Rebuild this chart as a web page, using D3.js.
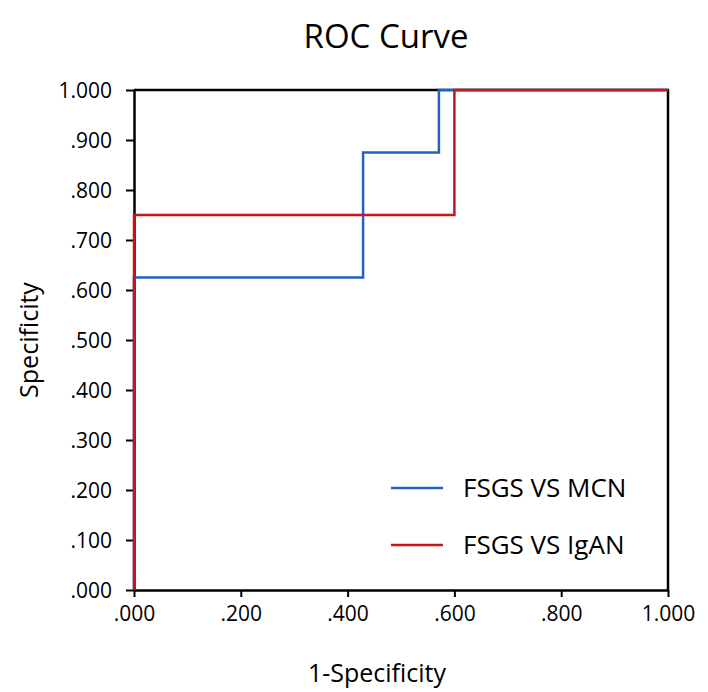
<!DOCTYPE html>
<html>
<head>
<meta charset="utf-8">
<script src="https://cdn.jsdelivr.net/npm/d3@7"></script>
<style>
html,body{margin:0;padding:0;background:#fff;}
text{font-family:"Open Sans",sans-serif;fill:#000;}
</style>
</head>
<body>
<svg id="chart" width="708" height="692"></svg>
<script>
const tickValues = [0, 0.2, 0.4, 0.6, 0.8, 1.0];
const xTickLabels = [".000", ".200", ".400", ".600", ".800", "1.000"];
const yTickValues = [0, 0.1, 0.2, 0.3, 0.4, 0.5, 0.6, 0.7, 0.8, 0.9, 1.0];
const yTickLabels = [".000", ".100", ".200", ".300", ".400", ".500", ".600", ".700", ".800", ".900", "1.000"];
const seriesNames = ["FSGS VS MCN", "FSGS VS IgAN"];
const seriesColors = ["#1f64c0", "#c8141c"];
const mcnX = [0, 0, 0.429, 0.429, 0.571, 0.571, 1];
const mcnY = [0, 0.625, 0.625, 0.875, 0.875, 1, 1];
const iganX = [0, 0, 0.6, 0.6, 1];
const iganY = [0, 0.75, 0.75, 1, 1];

const svg = d3.select("#chart");
const L = 134, R = 668, T = 90, B = 590;
const x = d3.scaleLinear().domain([0, 1]).range([L, R]);
const y = d3.scaleLinear().domain([0, 1]).range([B, T]);

// frame (top & right)
svg.append("path")
  .attr("d", `M${x(0)},${y(1)}H${x(1)}V${y(0)}`)
  .attr("fill", "none").attr("stroke", "#000").attr("stroke-width", 2.5);

const xAxis = svg.append("g").attr("transform", `translate(0,${B})`)
  .call(d3.axisBottom(x).tickValues(tickValues).tickSize(7).tickSizeOuter(0)
    .tickFormat((d, i) => xTickLabels[i]));
const yAxis = svg.append("g").attr("transform", `translate(${L},0)`)
  .call(d3.axisLeft(y).tickValues(yTickValues).tickSize(8).tickSizeOuter(0)
    .tickFormat((d, i) => yTickLabels[i]));
[xAxis, yAxis].forEach(g => {
  g.attr("font-size", 21).attr("font-family", "Open Sans, sans-serif");
  g.select(".domain").attr("stroke", "#000").attr("stroke-width", 2.5);
  g.selectAll(".tick line").attr("stroke", "#000").attr("stroke-width", 2);
  g.selectAll(".tick text").attr("fill", "#000");
});
xAxis.selectAll(".tick text").attr("dy", 0).attr("y", 31);
yAxis.selectAll(".tick text").attr("x", -22).attr("dy", "0.35em");

const line = d3.line().x(d => x(d[0])).y(d => y(d[1]));
const series = [
  d3.zip(mcnX, mcnY),
  d3.zip(iganX, iganY)
];
series.forEach((pts, i) => {
  svg.append("path").datum(pts)
    .attr("d", line)
    .attr("fill", "none")
    .attr("stroke", seriesColors[i])
    .attr("stroke-width", 2.5);
});

// legend
const legY = [488, 545];
seriesNames.forEach((name, i) => {
  svg.append("line").attr("x1", 391).attr("x2", 443).attr("y1", legY[i]).attr("y2", legY[i])
    .attr("stroke", seriesColors[i]).attr("stroke-width", 2.5);
  svg.append("text").attr("x", 463).attr("y", legY[i]).attr("dy", "0.35em")
    .attr("font-size", 26).text(name);
});

// title and axis labels
svg.append("text").attr("x", 386).attr("y", 48).attr("text-anchor", "middle")
  .attr("font-size", 33).text("ROC Curve");
svg.append("text").attr("x", 377).attr("y", 682).attr("text-anchor", "middle")
  .attr("font-size", 25).text("1-Specificity");
svg.append("text").attr("transform", "translate(38,340) rotate(-90)").attr("text-anchor", "middle")
  .attr("font-size", 25).text("Specificity");
</script>
</body>
</html>
